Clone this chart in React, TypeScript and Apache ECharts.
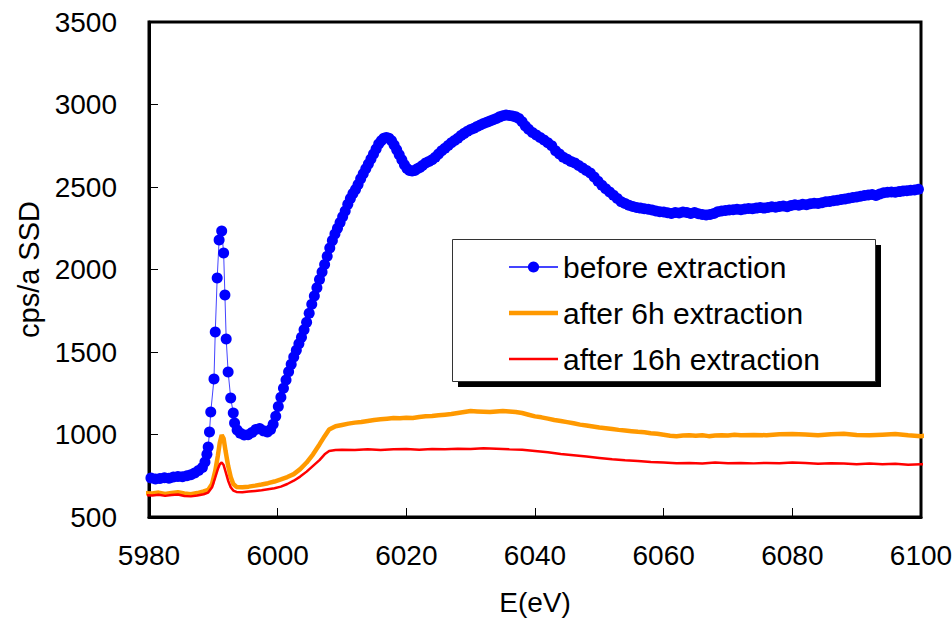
import React, { useEffect, useRef } from "react";
import * as echarts from "echarts";

const xTicks = [5980, 6000, 6020, 6040, 6060, 6080, 6100];
const yTicks = [500, 1000, 1500, 2000, 2500, 3000, 3500];
const seriesNames = ["before extraction", "after 6h extraction", "after 16h extraction"];

const blueE = [
  5980.3, 5981.0, 5981.7, 5982.4, 5983.1, 5983.8, 5984.5, 5985.2, 5985.9, 5986.5,
  5987.1, 5987.7, 5988.3, 5988.7, 5989.0, 5989.2, 5989.4, 5989.6, 5990.1, 5990.3,
  5990.6, 5990.9, 5991.3, 5991.6, 5991.8, 5992.0, 5992.3, 5992.7, 5993.1, 5993.3,
  5993.7, 5994.2, 5994.8, 5995.4, 5996.0, 5996.6, 5997.2, 5997.8, 5998.4, 5998.9,
  5999.3, 5999.7, 6000.1, 6000.5, 6000.9, 6001.3, 6001.7, 6002.1, 6002.5, 6002.9,
  6003.3, 6003.7, 6004.1, 6004.5, 6004.9, 6005.3, 6005.7, 6006.1, 6006.5, 6006.9,
  6007.3, 6007.7, 6008.1, 6008.5, 6008.9, 6009.3, 6009.7, 6010.1, 6010.5, 6010.9,
  6011.3, 6011.7, 6012.1, 6012.5, 6012.9, 6013.3, 6013.7, 6014.1, 6014.5, 6014.9,
  6015.3, 6015.7, 6016.1, 6016.5, 6016.9, 6017.3, 6017.7, 6018.1, 6018.5, 6018.9,
  6019.3, 6019.7, 6020.1, 6020.5, 6020.9, 6021.3, 6021.7, 6022.1, 6022.5, 6023.0,
  6023.5, 6024.0, 6024.5, 6025.0, 6025.5, 6026.0, 6026.5, 6027.0, 6027.5, 6028.0,
  6028.5, 6029.0, 6029.5, 6030.0, 6030.5, 6031.0, 6031.5, 6032.0, 6032.5, 6033.0,
  6033.5, 6034.0, 6034.5, 6035.0, 6035.5, 6036.0, 6036.5, 6037.0, 6037.5, 6038.0,
  6038.5, 6039.0, 6039.6, 6040.2, 6040.8, 6041.4, 6042.0, 6042.6, 6043.2, 6043.8,
  6044.4, 6045.0, 6045.6, 6046.2, 6046.8, 6047.4, 6048.0, 6048.6, 6049.2, 6049.8,
  6050.4, 6051.0, 6051.6, 6052.2, 6052.8, 6053.4, 6054.0, 6054.6, 6055.2, 6055.8,
  6056.4, 6057.0, 6057.6, 6058.2, 6058.8, 6059.4, 6060.0, 6060.6, 6061.2, 6061.8,
  6062.4, 6063.0, 6063.6, 6064.2, 6064.8, 6065.4, 6066.0, 6066.6, 6067.2, 6067.8,
  6068.4, 6069.0, 6069.6, 6070.2, 6070.8, 6071.4, 6072.0, 6072.6, 6073.2, 6073.8,
  6074.4, 6075.0, 6075.6, 6076.2, 6076.8, 6077.4, 6078.0, 6078.6, 6079.2, 6079.8,
  6080.4, 6081.0, 6081.6, 6082.2, 6082.8, 6083.4, 6084.0, 6084.6, 6085.2, 6085.8,
  6086.4, 6087.0, 6087.6, 6088.2, 6088.8, 6089.4, 6090.0, 6090.6, 6091.2, 6091.8,
  6092.4, 6093.0, 6093.6, 6094.2, 6094.8, 6095.4, 6096.0, 6096.6, 6097.2, 6097.8,
  6098.4, 6099.0, 6099.6, 6101.4,
];
const blueV = [
  736, 730, 734, 738, 735, 742, 746, 744, 750, 756,
  767, 782, 800, 833, 880, 924, 1015, 1136, 1336, 1621,
  1949, 2179, 2233, 2100, 1845, 1579, 1379, 1221, 1130, 1070,
  1027, 1008, 997, 999, 1012, 1030, 1036, 1022, 1015, 1030,
  1062, 1110, 1170, 1225, 1280, 1330, 1380, 1425, 1470, 1510,
  1550, 1590, 1635, 1680, 1735, 1790, 1840, 1890, 1940, 1985,
  2030, 2080, 2130, 2175, 2215, 2250, 2285, 2320, 2355, 2395,
  2430, 2460, 2485, 2515, 2550, 2580, 2610, 2640, 2670, 2700,
  2730, 2760, 2780, 2795, 2800, 2795, 2780, 2755, 2725, 2695,
  2665, 2635, 2612, 2600, 2597, 2600, 2610, 2618, 2630, 2645,
  2655, 2665, 2680, 2700, 2720, 2735, 2752, 2768, 2782, 2795,
  2812, 2825, 2838, 2848, 2856, 2866, 2876, 2885, 2893, 2900,
  2907, 2915, 2925, 2932, 2936, 2933, 2930, 2925, 2915, 2895,
  2870, 2850, 2830, 2815, 2800, 2785, 2768, 2750, 2720, 2700,
  2680, 2668, 2655, 2645, 2630, 2615, 2600, 2585, 2560, 2535,
  2510, 2490, 2470, 2450, 2430, 2410, 2400, 2390, 2382, 2376,
  2372, 2368, 2365, 2360, 2355, 2350, 2348, 2344, 2340, 2345,
  2342, 2348, 2345, 2340, 2345, 2338, 2334, 2330, 2334, 2340,
  2350, 2355, 2358, 2360, 2362, 2365, 2362, 2366, 2370, 2368,
  2372, 2375, 2372, 2376, 2380, 2378, 2382, 2385, 2380, 2388,
  2392, 2390, 2395, 2392, 2398, 2402, 2400, 2405, 2410, 2412,
  2416, 2420, 2424, 2428, 2432, 2436, 2440, 2444, 2448, 2452,
  2455, 2448, 2458, 2465, 2468, 2470, 2468, 2472, 2476, 2478,
  2480, 2482, 2486, 2506,
];

const orangeE = [
  5979.4, 5980.5, 5981.5, 5982.5, 5983.5, 5984.5, 5985.5, 5986.5, 5987.5, 5988.5,
  5989.2, 5989.8, 5990.3, 5990.7, 5991.0, 5991.3, 5991.6, 5991.9, 5992.3, 5992.7,
  5993.1, 5993.6, 5994.5, 5995.5, 5996.5, 5997.5, 5998.5, 5999.5, 6000.5, 6001.5,
  6002.5, 6003.5, 6004.5, 6005.5, 6006.5, 6007.3, 6008.0, 6009.0, 6010.0, 6011.0,
  6012.0, 6013.0, 6014.0, 6015.0, 6016.0, 6017.0, 6018.0, 6019.0, 6020.0, 6021.0,
  6022.0, 6023.0, 6024.0, 6025.0, 6026.0, 6027.0, 6028.0, 6029.0, 6030.0, 6031.0,
  6032.0, 6033.0, 6034.0, 6035.0, 6036.0, 6037.0, 6038.0, 6039.0, 6040.0, 6041.0,
  6042.0, 6043.0, 6044.0, 6045.0, 6046.0, 6047.0, 6048.0, 6049.0, 6050.0, 6051.0,
  6052.0, 6053.0, 6054.0, 6055.0, 6056.0, 6057.0, 6058.0, 6059.0, 6060.0, 6061.0,
  6062.0, 6063.0, 6064.0, 6065.0, 6066.0, 6067.0, 6068.0, 6069.0, 6070.0, 6071.0,
  6072.0, 6074.0, 6076.0, 6078.0, 6080.0, 6082.0, 6084.0, 6086.0, 6088.0, 6090.0,
  6092.0, 6094.0, 6096.0, 6098.0, 6100.0, 6101.5,
];
const orangeV = [
  645, 642, 648, 640, 646, 650, 643, 638, 645, 655,
  664, 700, 780, 870, 950, 997, 975, 900, 810, 742,
  700, 682, 680, 684, 690, 697, 705, 715, 728, 742,
  760, 790, 830, 880, 940, 990, 1030, 1050, 1058, 1066,
  1072, 1076, 1082, 1088, 1092, 1096, 1100, 1098, 1102, 1100,
  1106, 1110, 1112, 1116, 1120, 1124, 1130, 1136, 1142, 1140,
  1138, 1136, 1140, 1143, 1140, 1136, 1130, 1120, 1110, 1104,
  1096, 1088, 1082, 1075, 1068, 1060, 1054, 1048, 1042, 1038,
  1033, 1028, 1024, 1020, 1016, 1013, 1008, 1004, 998, 992,
  990, 994, 996, 993, 996, 990, 994, 996, 994, 998,
  995, 997, 996, 1002, 1003, 1000, 996, 1002, 1004, 997,
  995, 999, 1003, 996, 990, 997,
];

const redE = [
  5979.4, 5980.5, 5981.5, 5982.5, 5983.5, 5984.5, 5985.5, 5986.5, 5987.5, 5988.5,
  5989.2, 5989.8, 5990.3, 5990.7, 5991.0, 5991.3, 5991.6, 5991.9, 5992.3, 5992.7,
  5993.1, 5993.6, 5994.5, 5995.5, 5996.5, 5997.5, 5998.5, 5999.5, 6000.5, 6001.5,
  6002.5, 6003.5, 6004.5, 6005.5, 6006.5, 6007.3, 6008.0, 6009.0, 6010.0, 6012.0,
  6014.0, 6016.0, 6018.0, 6020.0, 6022.0, 6024.0, 6026.0, 6028.0, 6030.0, 6032.0,
  6034.0, 6036.0, 6038.0, 6040.0, 6042.0, 6044.0, 6046.0, 6048.0, 6050.0, 6052.0,
  6054.0, 6056.0, 6058.0, 6060.0, 6062.0, 6064.0, 6066.0, 6068.0, 6070.0, 6072.0,
  6074.0, 6076.0, 6078.0, 6080.0, 6082.0, 6084.0, 6086.0, 6088.0, 6090.0, 6092.0,
  6094.0, 6096.0, 6098.0, 6100.0, 6101.5,
];
const redV = [
  633, 630, 635, 628, 633, 636, 627, 625, 630, 638,
  648, 680, 740, 790, 820, 830, 815, 775, 720, 680,
  660, 652, 650, 654, 658, 662, 668, 674, 684, 700,
  720, 745, 775, 810, 845, 880, 900, 906, 908, 906,
  910, 906, 910, 912, 908, 912, 910, 914, 912, 916,
  914, 910, 908, 900, 892, 882, 874, 866, 858, 850,
  844, 840, 834, 830, 826, 828, 824, 830, 826, 828,
  825, 828, 826, 830, 827, 822, 826, 824, 820, 824,
  820, 822, 816, 820, 818,
];

const FONT = "Liberation Sans, Arial, sans-serif";

function pairs(xs: number[], ys: number[]) {
  return xs.map((x, i) => [x, ys[i]]);
}

export default function App() {
  const ref = useRef<HTMLDivElement>(null);
  useEffect(() => {
    if (!ref.current) return;
    const chart = echarts.init(ref.current, null, { renderer: "svg" });
    const blueData: any[] = pairs(blueE, blueV).map((p, i) =>
      i === blueE.length - 1 ? { value: p, symbol: "none" } : p
    );
    const thickIcon = "path://M0,0 M0,14 M0,4.75 L49,4.75 L49,9.25 L0,9.25 Z M49,0";
    const thinIcon = "path://M0,0 M0,14 M0,5.75 L49,5.75 L49,8.25 L0,8.25 Z M49,0";
    chart.setOption({
      animation: false,
      backgroundColor: "#ffffff",
      grid: {
        left: 149,
        right: 31,
        top: 22,
        bottom: 111,
        show: true,
        borderColor: "#000",
        borderWidth: 3,
        backgroundColor: "transparent",
        outerBoundsMode: "none",
        containLabel: false,
      },
      graphic: [
        { type: "rect", z: 0, shape: { x: 458, y: 245, width: 423, height: 142 }, style: { fill: "#000" } },
        { type: "rect", z: 0, shape: { x: 452.5, y: 239.5, width: 423, height: 142 }, style: { fill: "#fff", stroke: "#333", lineWidth: 1 } },
      ],
      legend: {
        z: 10,
        orient: "vertical",
        left: 508,
        top: 252,
        padding: 0,
        itemGap: 16,
        itemWidth: 49,
        itemHeight: 14,
        data: [
          { name: seriesNames[0] },
          { name: seriesNames[1], icon: thickIcon },
          { name: seriesNames[2], icon: thinIcon },
        ],
        textStyle: { fontFamily: FONT, fontSize: 30, color: "#000" },
      },
      xAxis: {
        type: "value",
        min: xTicks[0],
        max: xTicks[xTicks.length - 1],
        interval: 20,
        name: "E(eV)",
        nameLocation: "middle",
        nameGap: 71,
        nameTextStyle: { fontFamily: FONT, fontSize: 28, color: "#000" },
        axisLine: { show: true, lineStyle: { color: "#000", width: 3 } },
        axisTick: { show: true, inside: true, length: 9, lineStyle: { color: "#000", width: 1 } },
        axisLabel: { fontFamily: FONT, fontSize: 28, color: "#000", margin: 24, formatter: (v: number) => String(v) },
        splitLine: { show: false },
      },
      yAxis: {
        type: "value",
        min: yTicks[0],
        max: yTicks[yTicks.length - 1],
        interval: 500,
        name: "cps/a SSD",
        nameLocation: "middle",
        nameGap: 104,
        nameTextStyle: { fontFamily: FONT, fontSize: 29, color: "#000" },
        axisLine: { show: true, lineStyle: { color: "#000", width: 3 } },
        axisTick: { show: true, inside: true, length: 9, lineStyle: { color: "#000", width: 1 } },
        axisLabel: { fontFamily: FONT, fontSize: 28, color: "#000", margin: 32, formatter: (v: number) => String(v) },
        splitLine: { show: false },
      },
      series: [
        {
          name: seriesNames[0],
          type: "line",
          data: blueData,
          clip: false,
          symbol: "circle",
          symbolSize: 11,
          showAllSymbol: true,
          itemStyle: { color: "#0000ff" },
          lineStyle: { color: "#4444ff", width: 1 },
          z: 5,
        },
        {
          name: seriesNames[1],
          type: "line",
          data: pairs(orangeE, orangeV),
          clip: false,
          symbol: "none",
          itemStyle: { color: "#ff9900" },
          lineStyle: { color: "#ff9900", width: 4.5 },
          z: 3,
        },
        {
          name: seriesNames[2],
          type: "line",
          data: pairs(redE, redV),
          clip: false,
          symbol: "none",
          itemStyle: { color: "#ff0000" },
          lineStyle: { color: "#ff0000", width: 2.5 },
          z: 4,
        },
      ],
    });
    return () => chart.dispose();
  }, []);
  return <div ref={ref} style={{ width: 952, height: 628, position: "absolute", left: 0, top: 0 }} />;
}
